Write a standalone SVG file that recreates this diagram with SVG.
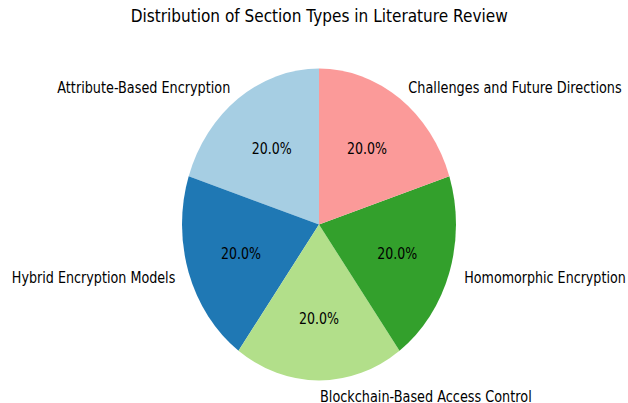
<svg xmlns="http://www.w3.org/2000/svg" width="628" height="403" viewBox="0 0 628 403">
<style>
text{font-family:"DejaVu Sans","Liberation Sans",sans-serif;fill:#000;}
.t{font-size:18.5px;}
.l{font-size:15.5px;}
.p{font-size:15.5px;}
</style>
<rect width="628" height="403" fill="#fff"/>
<text class="t" x="130.7" y="21.7" textLength="377" lengthAdjust="spacingAndGlyphs">Distribution of Section Types in Literature Review</text>
<g id="attribute-based">
<path d="M319 224.5 L319 68.5 A137 156 0 0 0 188.7 176.3 Z" fill="#a6cee3"/>
<text class="l" x="57.3" y="92.5" textLength="173" lengthAdjust="spacingAndGlyphs">Attribute-Based Encryption</text>
<text class="p" x="251.7" y="154" textLength="40" lengthAdjust="spacingAndGlyphs">20.0%</text>
</g>
<g id="hybrid">
<path d="M319 224.5 L188.7 176.3 A137 156 0 0 0 238.5 350.7 Z" fill="#1f78b4"/>
<text class="l" x="11.8" y="283" textLength="163.5" lengthAdjust="spacingAndGlyphs">Hybrid Encryption Models</text>
<text class="p" x="221" y="259.2" textLength="40" lengthAdjust="spacingAndGlyphs">20.0%</text>
</g>
<g id="blockchain">
<path d="M319 224.5 L238.5 350.7 A137 156 0 0 0 399.5 350.7 Z" fill="#b2df8a"/>
<text class="l" x="320" y="402" textLength="211.7" lengthAdjust="spacingAndGlyphs">Blockchain-Based Access Control</text>
<text class="p" x="299" y="324" textLength="40" lengthAdjust="spacingAndGlyphs">20.0%</text>
</g>
<g id="homomorphic">
<path d="M319 224.5 L399.5 350.7 A137 156 0 0 0 449.3 176.3 Z" fill="#33a02c"/>
<text class="l" x="464.3" y="283" textLength="161.4" lengthAdjust="spacingAndGlyphs">Homomorphic Encryption</text>
<text class="p" x="377.2" y="259.2" textLength="40" lengthAdjust="spacingAndGlyphs">20.0%</text>
</g>
<g id="challenges">
<path d="M319 224.5 L449.3 176.3 A137 156 0 0 0 319 68.5 Z" fill="#fb9a99"/>
<text class="l" x="408.3" y="92.5" textLength="213.4" lengthAdjust="spacingAndGlyphs">Challenges and Future Directions</text>
<text class="p" x="347" y="154" textLength="40" lengthAdjust="spacingAndGlyphs">20.0%</text>
</g>
</svg>
